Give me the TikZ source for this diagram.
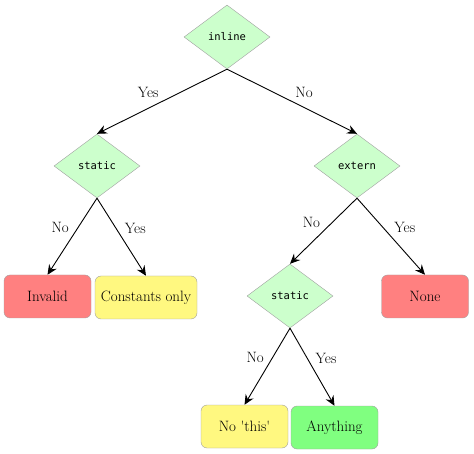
\documentclass[tikz,border=0pt]{standalone}
\usepackage{fontspec}
\newfontfamily\codefont{DejaVu Sans Mono}
\usetikzlibrary{shapes,arrows.meta}
\pgfdeclarelayer{edgelayer}
\pgfdeclarelayer{nodelayer}
\pgfsetlayers{edgelayer,nodelayer,main}
\definecolor{askfill}{HTML}{CCFFCC}
\definecolor{badfill}{HTML}{FF8080}
\definecolor{somefill}{HTML}{FFF880}
\definecolor{goodfill}{HTML}{80FF80}
\definecolor{rim}{HTML}{A0A0A0}
\tikzset{x=1pt,y=-1pt,font=\fontsize{15}{18}\selectfont}
\tikzstyle{ask}=[diamond,draw=rim,fill=askfill,inner sep=0pt,minimum width=86pt,minimum height=64pt,font=\codefont\fontsize{10.5}{12}\selectfont]
\tikzstyle{answer}=[rectangle,rounded corners=6pt,draw=rim,minimum width=87pt,minimum height=43pt,inner sep=2pt]
\tikzstyle{flow}=[line width=0.9pt,-{Stealth[length=10pt,width=9pt,inset=3.5pt]}]
\tikzstyle{lbl}=[inner sep=3pt]

\begin{document}
\begin{tikzpicture}
	\useasboundingbox (0, 0) rectangle (474, 454);
	\begin{pgfonlayer}{nodelayer}
		\node [style=ask] (inline) at (227, 37) {inline};
		\node [style=ask] (static1) at (97, 166) {static};
		\node [style=ask] (extern) at (357, 166) {extern};
		\node [style=ask] (static2) at (290, 296) {static};
		\node [style=answer, fill=badfill] (invalid) at (47.5, 296.5) {Invalid};
		\node [style=answer, fill=somefill, minimum width=102pt] (const) at (146, 297.5) {Constants only};
		\node [style=answer, fill=badfill] (none) at (425, 296.5) {None};
		\node [style=answer, fill=somefill] (nothis) at (244.5, 426.5) {No \textquotesingle this\textquotesingle};
		\node [style=answer, fill=goodfill] (any) at (334.5, 427.5) {Anything};
	\end{pgfonlayer}
	\begin{pgfonlayer}{edgelayer}
		\draw[style=flow] (inline.south) to node[lbl, above left] {Yes} (static1.north);
		\draw[style=flow] (inline.south) to node[lbl, above right] {No} (extern.north);
		\draw[style=flow] (static1.south) to node[lbl, above left] {No} (invalid.north);
		\draw[style=flow] (static1.south) to node[lbl, above right] {Yes} (const.north);
		\draw[style=flow] (extern.south) to node[lbl, above left] {No} (static2.north);
		\draw[style=flow] (extern.south) to node[lbl, above right] {Yes} (none.north);
		\draw[style=flow] (static2.south) to node[lbl, above left] {No} (nothis.north);
		\draw[style=flow] (static2.south) to node[lbl, above right] {Yes} (any.north);
	\end{pgfonlayer}
\end{tikzpicture}
\end{document}
